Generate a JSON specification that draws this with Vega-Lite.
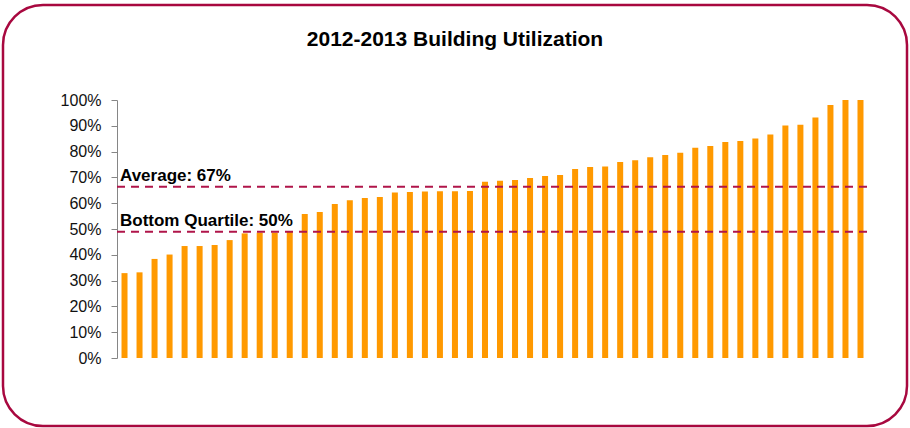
{
  "$schema": "https://vega.github.io/schema/vega-lite/v6.json",
  "width": 904,
  "height": 421,
  "autosize": {"type": "none"},
  "padding": {"left": 3, "top": 5, "right": 3, "bottom": 2},
  "background": "white",
  "title": {
    "text": "2012-2013 Building Utilization",
    "font": "Liberation Sans",
    "fontSize": 21,
    "fontWeight": "bold",
    "color": "#000000",
    "anchor": "middle",
    "offset": -45
  },
  "config": {
    "view": {"stroke": "#a8083f", "strokeWidth": 2.5, "cornerRadius": 40}
  },
  "datasets": {
    "buildings": [
      {"building": 1, "utilization": 0.329},
      {"building": 2, "utilization": 0.332},
      {"building": 3, "utilization": 0.384},
      {"building": 4, "utilization": 0.401},
      {"building": 5, "utilization": 0.434},
      {"building": 6, "utilization": 0.434},
      {"building": 7, "utilization": 0.438},
      {"building": 8, "utilization": 0.457},
      {"building": 9, "utilization": 0.483},
      {"building": 10, "utilization": 0.486},
      {"building": 11, "utilization": 0.486},
      {"building": 12, "utilization": 0.491},
      {"building": 13, "utilization": 0.558},
      {"building": 14, "utilization": 0.566},
      {"building": 15, "utilization": 0.597},
      {"building": 16, "utilization": 0.611},
      {"building": 17, "utilization": 0.62},
      {"building": 18, "utilization": 0.624},
      {"building": 19, "utilization": 0.641},
      {"building": 20, "utilization": 0.643},
      {"building": 21, "utilization": 0.645},
      {"building": 22, "utilization": 0.646},
      {"building": 23, "utilization": 0.646},
      {"building": 24, "utilization": 0.647},
      {"building": 25, "utilization": 0.683},
      {"building": 26, "utilization": 0.687},
      {"building": 27, "utilization": 0.69},
      {"building": 28, "utilization": 0.698},
      {"building": 29, "utilization": 0.705},
      {"building": 30, "utilization": 0.709},
      {"building": 31, "utilization": 0.733},
      {"building": 32, "utilization": 0.74},
      {"building": 33, "utilization": 0.742},
      {"building": 34, "utilization": 0.76},
      {"building": 35, "utilization": 0.766},
      {"building": 36, "utilization": 0.778},
      {"building": 37, "utilization": 0.787},
      {"building": 38, "utilization": 0.796},
      {"building": 39, "utilization": 0.815},
      {"building": 40, "utilization": 0.822},
      {"building": 41, "utilization": 0.837},
      {"building": 42, "utilization": 0.841},
      {"building": 43, "utilization": 0.851},
      {"building": 44, "utilization": 0.866},
      {"building": 45, "utilization": 0.901},
      {"building": 46, "utilization": 0.904},
      {"building": 47, "utilization": 0.932},
      {"building": 48, "utilization": 0.981},
      {"building": 49, "utilization": 1.0},
      {"building": 50, "utilization": 1.0}
    ],
    "refs": [
      {"label": "Average: 67%", "value": 0.664},
      {"label": "Bottom Quartile: 50%", "value": 0.4895}
    ]
  },
  "layer": [
    {
      "data": {"name": "buildings"},
      "mark": {"type": "bar", "color": "#ff9900"},
      "encoding": {
        "x": {
          "field": "building",
          "type": "ordinal",
          "scale": {"range": [114, 865], "paddingInner": 0.6, "paddingOuter": 0.3},
          "axis": null
        },
        "y": {
          "field": "utilization",
          "type": "quantitative",
          "scale": {"domain": [0, 1], "range": [353, 95], "nice": false},
          "axis": {
            "values": [0, 0.1, 0.2, 0.3, 0.4, 0.5, 0.6, 0.7, 0.8, 0.9, 1],
            "format": ".0%",
            "title": null,
            "grid": false,
            "offset": -114,
            "domainColor": "#868686",
            "domainWidth": 1,
            "tickColor": "#868686",
            "tickSize": 6,
            "labelFont": "Liberation Sans",
            "labelFontSize": 16,
            "labelColor": "#111111",
            "labelPadding": 10
          }
        }
      }
    },
    {
      "data": {"name": "refs"},
      "mark": {"type": "rule", "color": "#b0154a", "strokeWidth": 2, "strokeDash": [8, 6]},
      "encoding": {
        "x": {"datum": 0, "type": "quantitative", "scale": {"domain": [0, 1], "range": [114, 865], "nice": false}, "axis": null},
        "x2": {"datum": 1},
        "y": {"field": "value", "type": "quantitative", "scale": {"domain": [0, 1], "range": [353, 95], "nice": false}}
      }
    },
    {
      "data": {"name": "refs"},
      "mark": {"type": "text", "align": "left", "baseline": "alphabetic", "dx": 3, "dy": -6, "font": "Liberation Sans", "fontSize": 17, "fontWeight": "bold", "color": "#000000"},
      "encoding": {
        "x": {"datum": 0, "type": "quantitative", "scale": {"domain": [0, 1], "range": [114, 865], "nice": false}, "axis": null},
        "y": {"field": "value", "type": "quantitative", "scale": {"domain": [0, 1], "range": [353, 95], "nice": false}},
        "text": {"field": "label"}
      }
    }
  ],
  "resolve": {"scale": {"x": "independent"}}
}
